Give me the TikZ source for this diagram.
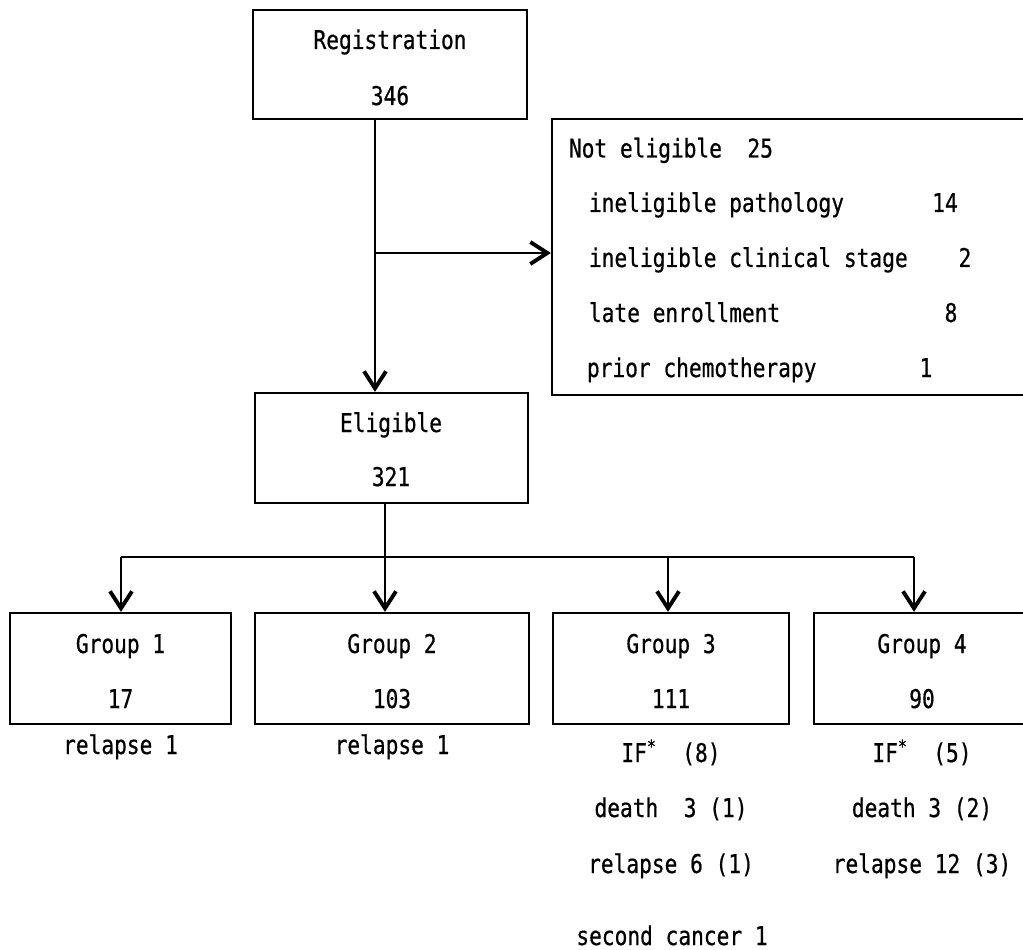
\documentclass[tikz,border=0pt]{standalone}
\usepackage{fontspec}
\newfontfamily\gothic[FakeStretch=0.82,FakeBold=0.6]{DejaVu Sans Mono}
\usetikzlibrary{arrows.meta}

\def\pxu{0.02cm}
\tikzset{
  box/.style={draw, line width=1.3pt, inner sep=0pt},
  txt/.style={inner sep=0pt, anchor=base},
  txtl/.style={inner sep=0pt, anchor=base west},
  arr/.style={-{Straight Barb[length=0.34cm,width=0.44cm,line width=2.2pt]}},
}

\begin{document}
\begin{tikzpicture}[x=\pxu, y=-\pxu, line width=1.1pt, font=\gothic\fontsize{14.7}{17}\selectfont]
\clip (0,0) rectangle (1023,949);

% boxes
\node[box, minimum width=274*\pxu, minimum height=109*\pxu] (reg) at (390,64.5) {};
\node[box, minimum width=478*\pxu, minimum height=276*\pxu] (ne) at (791,257) {};
\node[box, minimum width=273*\pxu, minimum height=110*\pxu] (eli) at (391.5,448) {};
\node[box, minimum width=221*\pxu, minimum height=111*\pxu] (g1) at (120.5,668.5) {};
\node[box, minimum width=274*\pxu, minimum height=111*\pxu] (g2) at (392,668.5) {};
\node[box, minimum width=236*\pxu, minimum height=111*\pxu] (g3) at (671,668.5) {};
\node[box, minimum width=216*\pxu, minimum height=111*\pxu] (g4) at (922,668.5) {};

% texts in boxes
\node[txt] (regT) at (390,49) {Registration};
\node[txt] (regN) at (390,105) {346};
\node[txt] (eliT) at (391,432) {Eligible};
\node[txt] (eliN) at (391,486) {321};

\node[txtl] (neT) at (568,157.5) {Not eligible~~25};
\node[txtl] (ne1) at (588,212) {ineligible pathology};
\node[txt] (ne1n) at (945,212) {14};
\node[txtl] (ne2) at (588,267) {ineligible clinical stage};
\node[txt] (ne2n) at (965,267) {2};
\node[txtl] (ne3) at (588,322) {late enrollment};
\node[txt] (ne3n) at (951,322) {8};
\node[txtl] (ne4) at (586,377) {prior chemotherapy};
\node[txt] (ne4n) at (926,377) {1};

\node[txt] (g1T) at (120.5,653) {Group 1};
\node[txt] (g1N) at (120.5,708) {17};
\node[txt] (g2T) at (392,653) {Group 2};
\node[txt] (g2N) at (392,708) {103};
\node[txt] (g3T) at (671,653) {Group 3};
\node[txt] (g3N) at (671,708) {111};
\node[txt] (g4T) at (922,653) {Group 4};
\node[txt] (g4N) at (922,708) {90};

% outcomes
\node[txt] (g1a) at (120.5,754) {relapse 1};
\node[txt] (g2a) at (392,754) {relapse 1};
\node[txt] (g3a) at (671,762) {IF\textsuperscript{*}~~(8)};
\node[txt] (g3b) at (671,817) {death~~3 (1)};
\node[txt] (g3c) at (671,873) {relapse 6 (1)};
\node[txt] (g3d) at (672,945) {second cancer 1};
\node[txt] (g4a) at (922,762) {IF\textsuperscript{*}~~(5)};
\node[txt] (g4b) at (922,817) {death 3 (2)};
\node[txt] (g4c) at (922,873) {relapse 12 (3)};

% connectors
\coordinate (spine) at (375,253);
\draw[arr] (spine |- reg.south) -- (spine |- eli.north);
\draw[arr] (spine) -- (spine -| ne.west);

\coordinate (hub) at (385,557);
\coordinate (hl) at (121,557);
\coordinate (h3) at (668,557);
\coordinate (hr) at (914,557);
\draw[arr] (hub |- eli.south) -- (hub |- g2.north);
\draw (hl) -- (hr);
\draw[arr] (hl) -- (hl |- g1.north);
\draw[arr] (h3) -- (h3 |- g3.north);
\draw[arr] (hr) -- (hr |- g4.north);
\end{tikzpicture}
\end{document}
